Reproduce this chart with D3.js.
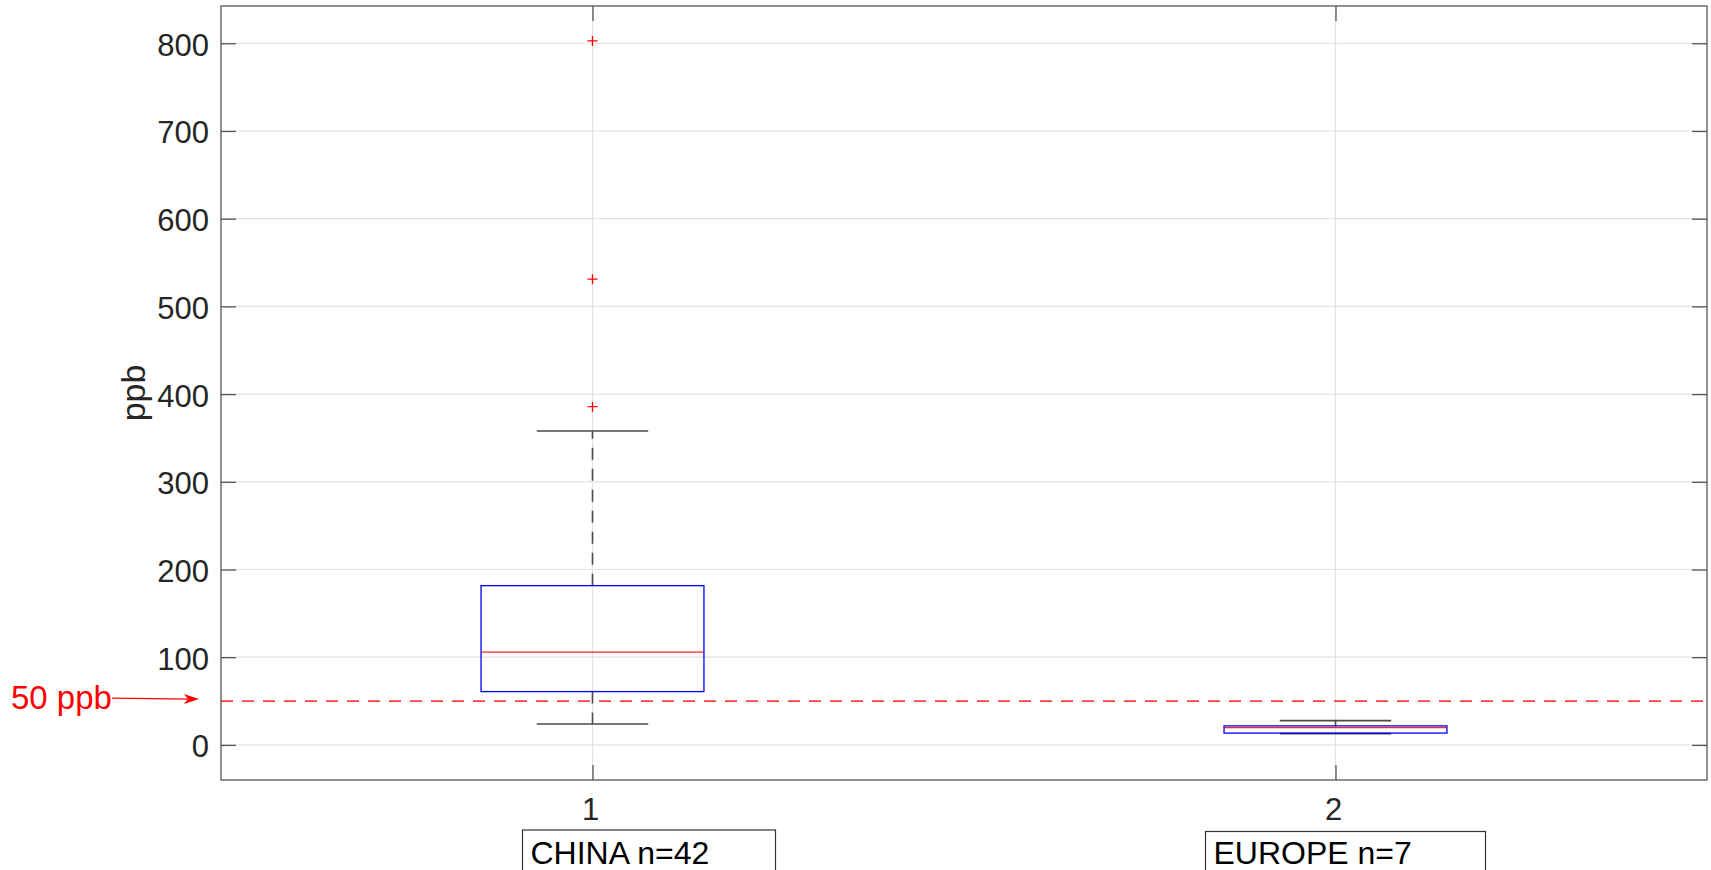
<!DOCTYPE html>
<html>
<head>
<meta charset="utf-8">
<script src="https://cdn.jsdelivr.net/npm/d3@7"></script>
<style>
  html, body { margin: 0; padding: 0; background: #fff; overflow: hidden; }
  svg { display: block; font-family: "Liberation Sans", Arial, Helvetica, sans-serif; }
</style>
</head>
<body>
<svg id="chart" width="1711" height="870"></svg>
<script>
// Box statistics per group (ppb)
const categories   = [1, 2];
const groupLabels  = ["CHINA n=42", "EUROPE n=7"];
const whiskerLow   = [23.9, 12.9];
const quartile1    = [60.8, 13.5];
const medians      = [105.7, 19.7];
const quartile3    = [181.6, 21.7];
const whiskerHigh  = [358.0, 27.7];
const outliers     = [[385.7, 531.0, 802.7], []];

const yTicks = [0, 100, 200, 300, 400, 500, 600, 700, 800];
const xTicks = [1, 2];
const yDomain = [-40, 842.5];
const xDomain = [0.5, 2.5];

const threshold = 50;
const thresholdLabel = "50 ppb";
const yLabel = "ppb";

// Layout
const W = 1711, H = 870;
const plot = { left: 221, right: 1707, top: 6, bottom: 780 };
const boxWidth = 0.3;      // data units
const capWidth = 0.15;     // data units
const tickLen = 15;
const tickFont = 31;

const svg = d3.select("#chart");

const x = d3.scaleLinear().domain(xDomain).range([plot.left, plot.right]);
const y = d3.scaleLinear().domain(yDomain).range([plot.bottom, plot.top]);

// Grid
const grid = svg.append("g");
grid.selectAll("line.gy").data(yTicks).join("line")
  .attr("x1", plot.left).attr("x2", plot.right)
  .attr("y1", d => y(d)).attr("y2", d => y(d))
  .attr("stroke", "#e2e2e2").attr("stroke-width", 1.2);
grid.selectAll("line.gx").data(xTicks).join("line")
  .attr("x1", d => x(d)).attr("x2", d => x(d))
  .attr("y1", plot.top).attr("y2", plot.bottom)
  .attr("stroke", "#e2e2e2").attr("stroke-width", 1.2);

// Axes (inside ticks on all four sides)
const axisColor = "#555";
const axL = svg.append("g").attr("transform", `translate(${plot.left},0)`)
  .call(d3.axisRight(y).tickValues(yTicks).tickSize(tickLen).tickFormat(""));
const axR = svg.append("g").attr("transform", `translate(${plot.right},0)`)
  .call(d3.axisLeft(y).tickValues(yTicks).tickSize(tickLen).tickFormat(""));
const axB = svg.append("g").attr("transform", `translate(0,${plot.bottom})`)
  .call(d3.axisTop(x).tickValues(xTicks).tickSize(tickLen).tickFormat(""));
const axT = svg.append("g").attr("transform", `translate(0,${plot.top})`)
  .call(d3.axisBottom(x).tickValues(xTicks).tickSize(tickLen).tickFormat(""));
[axL, axR, axB, axT].forEach(a => {
  a.select(".domain").remove();
  a.selectAll(".tick line").attr("stroke", axisColor).attr("stroke-width", 1.3);
});
svg.append("rect")
  .attr("x", plot.left).attr("y", plot.top)
  .attr("width", plot.right - plot.left).attr("height", plot.bottom - plot.top)
  .attr("fill", "none").attr("stroke", axisColor).attr("stroke-width", 1.3);

// Tick labels
svg.append("g").selectAll("text").data(yTicks).join("text")
  .attr("x", plot.left - 12).attr("y", d => y(d) + 2)
  .attr("text-anchor", "end").attr("dominant-baseline", "central")
  .attr("font-size", tickFont).attr("fill", "#262626")
  .text(d => d);
svg.append("g").selectAll("text").data(xTicks).join("text")
  .attr("x", d => x(d) - 2).attr("y", plot.bottom + 40)
  .attr("text-anchor", "middle")
  .attr("font-size", tickFont).attr("fill", "#262626")
  .text(d => d);

// Y axis label
svg.append("text")
  .attr("transform", `translate(145,${(plot.top + plot.bottom) / 2}) rotate(-90)`)
  .attr("text-anchor", "middle")
  .attr("font-size", 34).attr("fill", "#262626")
  .text(yLabel);

// Boxplots
const boxes = svg.append("g");
categories.forEach((c, i) => {
  const g = boxes.append("g");
  const cx = x(c);
  // whiskers (dashed)
  [[quartile3[i], whiskerHigh[i]], [quartile1[i], whiskerLow[i]]].forEach(([a, b]) => {
    g.append("line")
      .attr("x1", cx).attr("x2", cx).attr("y1", y(a)).attr("y2", y(b))
      .attr("stroke", "#4a4a4a").attr("stroke-width", 1.6)
      .attr("stroke-dasharray", "12,9");
  });
  // caps
  [whiskerHigh[i], whiskerLow[i]].forEach(v => {
    g.append("line")
      .attr("x1", x(c - capWidth / 2)).attr("x2", x(c + capWidth / 2))
      .attr("y1", y(v)).attr("y2", y(v))
      .attr("stroke", "#4a4a4a").attr("stroke-width", 1.6);
  });
  // box
  g.append("rect")
    .attr("x", x(c - boxWidth / 2)).attr("width", x(c + boxWidth / 2) - x(c - boxWidth / 2))
    .attr("y", y(quartile3[i])).attr("height", y(quartile1[i]) - y(quartile3[i]))
    .attr("fill", "none").attr("stroke", "#0000ff").attr("stroke-width", 1.3);
  // median
  g.append("line")
    .attr("x1", x(c - boxWidth / 2)).attr("x2", x(c + boxWidth / 2))
    .attr("y1", y(medians[i])).attr("y2", y(medians[i]))
    .attr("stroke", "#ff0000").attr("stroke-width", 1.3).attr("stroke-opacity", 0.85);
  // outliers
  g.selectAll("path.out").data(outliers[i]).join("path")
    .attr("d", d => `M${cx - 5},${y(d)}H${cx + 5}M${cx},${y(d) - 5}V${y(d) + 5}`)
    .attr("stroke", "#ff0000").attr("stroke-width", 1.3).attr("fill", "none");
});

// Threshold line
svg.append("line")
  .attr("x1", plot.left).attr("x2", plot.right)
  .attr("y1", y(threshold)).attr("y2", y(threshold))
  .attr("stroke", "#ff0000").attr("stroke-width", 1.7).attr("stroke-opacity", 0.75)
  .attr("stroke-dasharray", "12,9");

// Threshold annotation with arrow
svg.append("text")
  .attr("x", 11).attr("y", y(threshold) + 8)
  .attr("font-size", 33).attr("fill", "#ff0000")
  .text(thresholdLabel);
const ax0 = 112, ay0 = y(threshold) - 3, ax1 = 199, ay1 = y(threshold) - 2;
svg.append("line")
  .attr("x1", ax0).attr("y1", ay0).attr("x2", ax1 - 8).attr("y2", ay1)
  .attr("stroke", "#ff0000").attr("stroke-width", 1.3);
svg.append("path")
  .attr("d", `M${ax1},${ay1} L${ax1 - 15},${ay1 - 5} L${ax1 - 11},${ay1} L${ax1 - 15},${ay1 + 5} Z`)
  .attr("fill", "#ff0000");

// Group annotation boxes below the axis
const boxLayout = [{ dx: -70, w: 253 }, { dx: -130, w: 280 }];
categories.forEach((c, i) => {
  const bx = x(c) + boxLayout[i].dx;
  svg.append("rect")
    .attr("x", bx).attr("y", 830 + i * 1.5)
    .attr("width", boxLayout[i].w).attr("height", 80)
    .attr("fill", "#fff").attr("stroke", "#333").attr("stroke-width", 1.2);
  svg.append("text")
    .attr("x", bx + 8).attr("y", 864)
    .attr("font-size", 32).attr("fill", "#000")
    .text(groupLabels[i]);
});
</script>
</body>
</html>
